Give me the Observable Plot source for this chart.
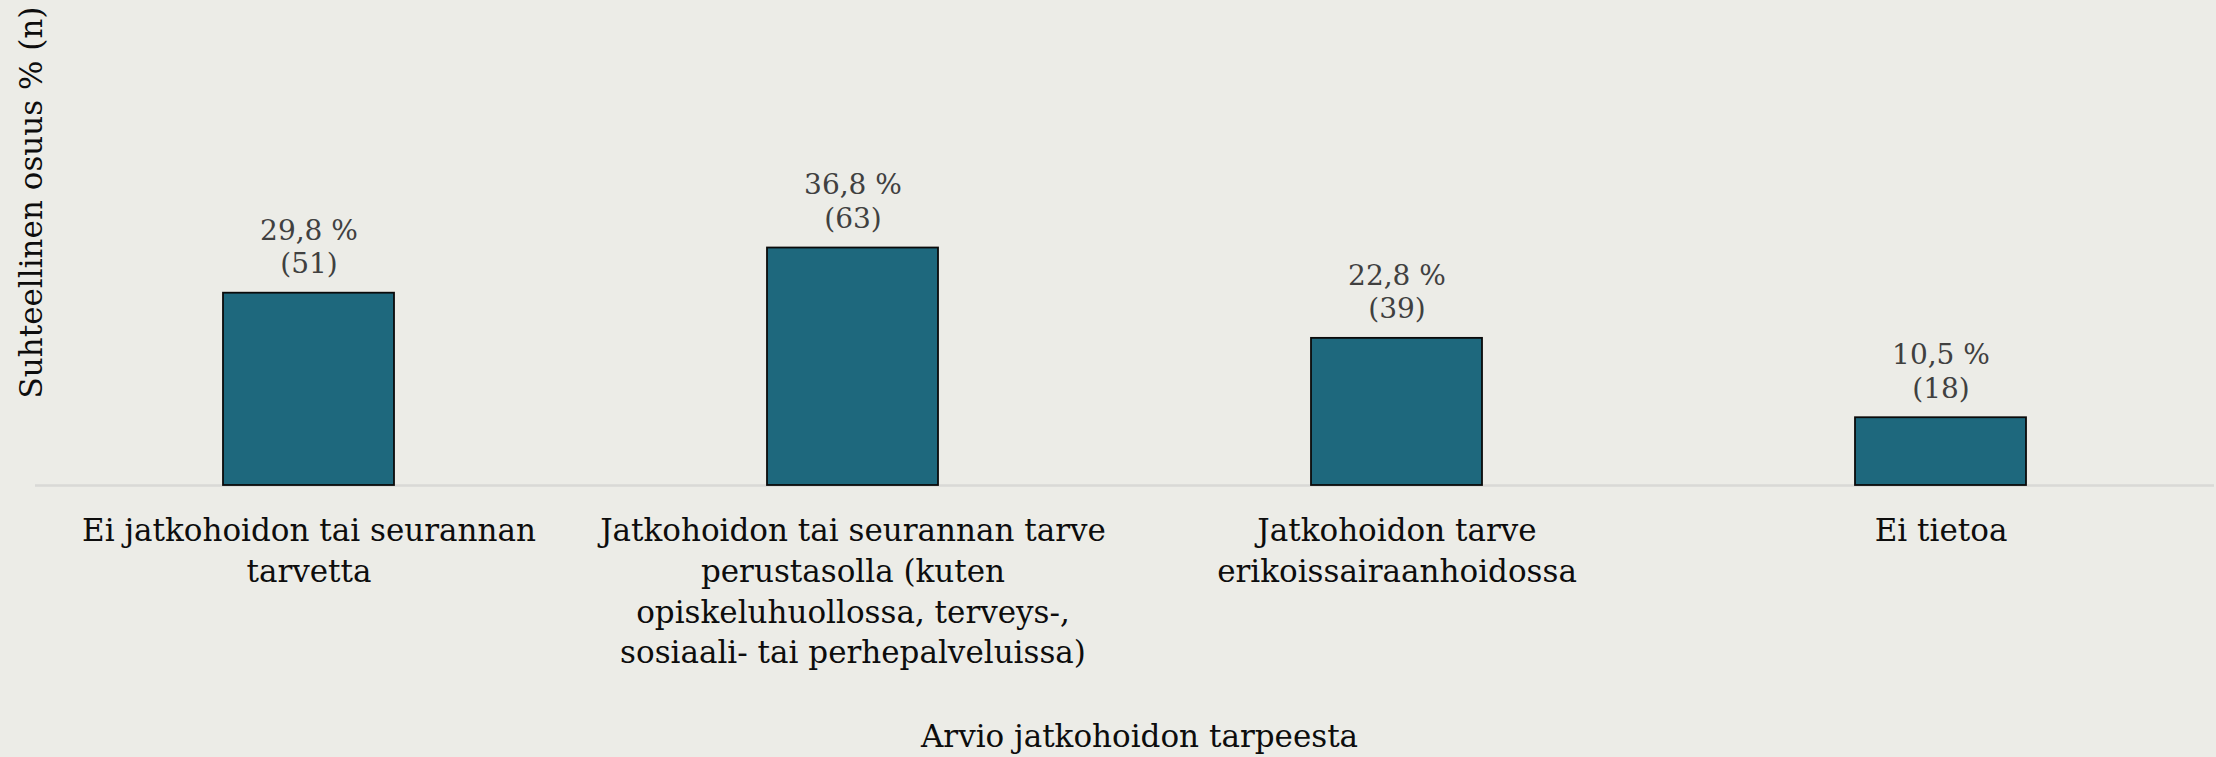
<!DOCTYPE html>
<html><head><meta charset="utf-8">
<script src="https://cdn.jsdelivr.net/npm/d3@7"></script>
<script src="https://cdn.jsdelivr.net/npm/@observablehq/plot@0.6"></script>
<style>
html,body{margin:0;padding:0;background:#ECECE7;}
#chart svg{display:block;}
</style></head><body><div id="chart"></div>
<script>
const categories = [
  "Ei jatkohoidon tai seurannan tarvetta",
  "Jatkohoidon tai seurannan tarve perustasolla (kuten opiskeluhuollossa, terveys-, sosiaali- tai perhepalveluissa)",
  "Jatkohoidon tarve erikoissairaanhoidossa",
  "Ei tietoa"
];
const tickLabels = [
  "Ei jatkohoidon tai seurannan\ntarvetta",
  "Jatkohoidon tai seurannan tarve\nperustasolla (kuten\nopiskeluhuollossa, terveys-,\nsosiaali- tai perhepalveluissa)",
  "Jatkohoidon tarve\nerikoissairaanhoidossa",
  "Ei tietoa"
];
const percents = [29.8, 36.8, 22.8, 10.5];
const counts = [51, 63, 39, 18];
const yTitle = "Suhteellinen osuus % (n)";
const xTitle = "Arvio jatkohoidon tarpeesta";

const data = categories.map((c, i) => ({
  category: c,
  tick: tickLabels[i],
  pct: percents[i],
  n: counts[i],
  label: `${percents[i].toFixed(1).replace(".", ",")} %\n(${counts[i]})`
}));

const chart = Plot.plot({
  width: 2216, height: 757,
  marginLeft: 35, marginRight: 2, marginTop: 1, marginBottom: 272,
  style: {background: "#ECECE7", fontFamily: "DejaVu Serif"},
  x: {domain: categories, paddingInner: 0.686, paddingOuter: 0.343, axis: null},
  y: {domain: [0, 75], axis: null},
  marks: [
    Plot.ruleY([0], {stroke: "#D9D9D6", strokeWidth: 2.5}),
    Plot.barY(data, {x: "category", y: "pct", fill: "#1E687D", stroke: "#0A0A0A", strokeWidth: 1.8}),
    Plot.text(data, {x: "category", y: "pct", text: "label", lineAnchor: "bottom", dy: -20, fontSize: 28, lineHeight: 1.2, fill: "#404040"}),
    Plot.text(data, {x: "category", y: () => 0, text: "tick", lineAnchor: "top", dy: 27, fontSize: 31, lineHeight: 1.31, fill: "#0D0D0D"}),
    Plot.text([yTitle], {text: d => d, frameAnchor: "left", textAnchor: "middle", rotate: -90, dx: -3, dy: -41, fontSize: 31, fill: "#0D0D0D"}),
    Plot.text([xTitle], {text: d => d, frameAnchor: "bottom", textAnchor: "middle", dx: 14.5, dy: 261, fontSize: 31, fill: "#0D0D0D"})
  ]
});
document.getElementById("chart").append(chart);
</script></body></html>
